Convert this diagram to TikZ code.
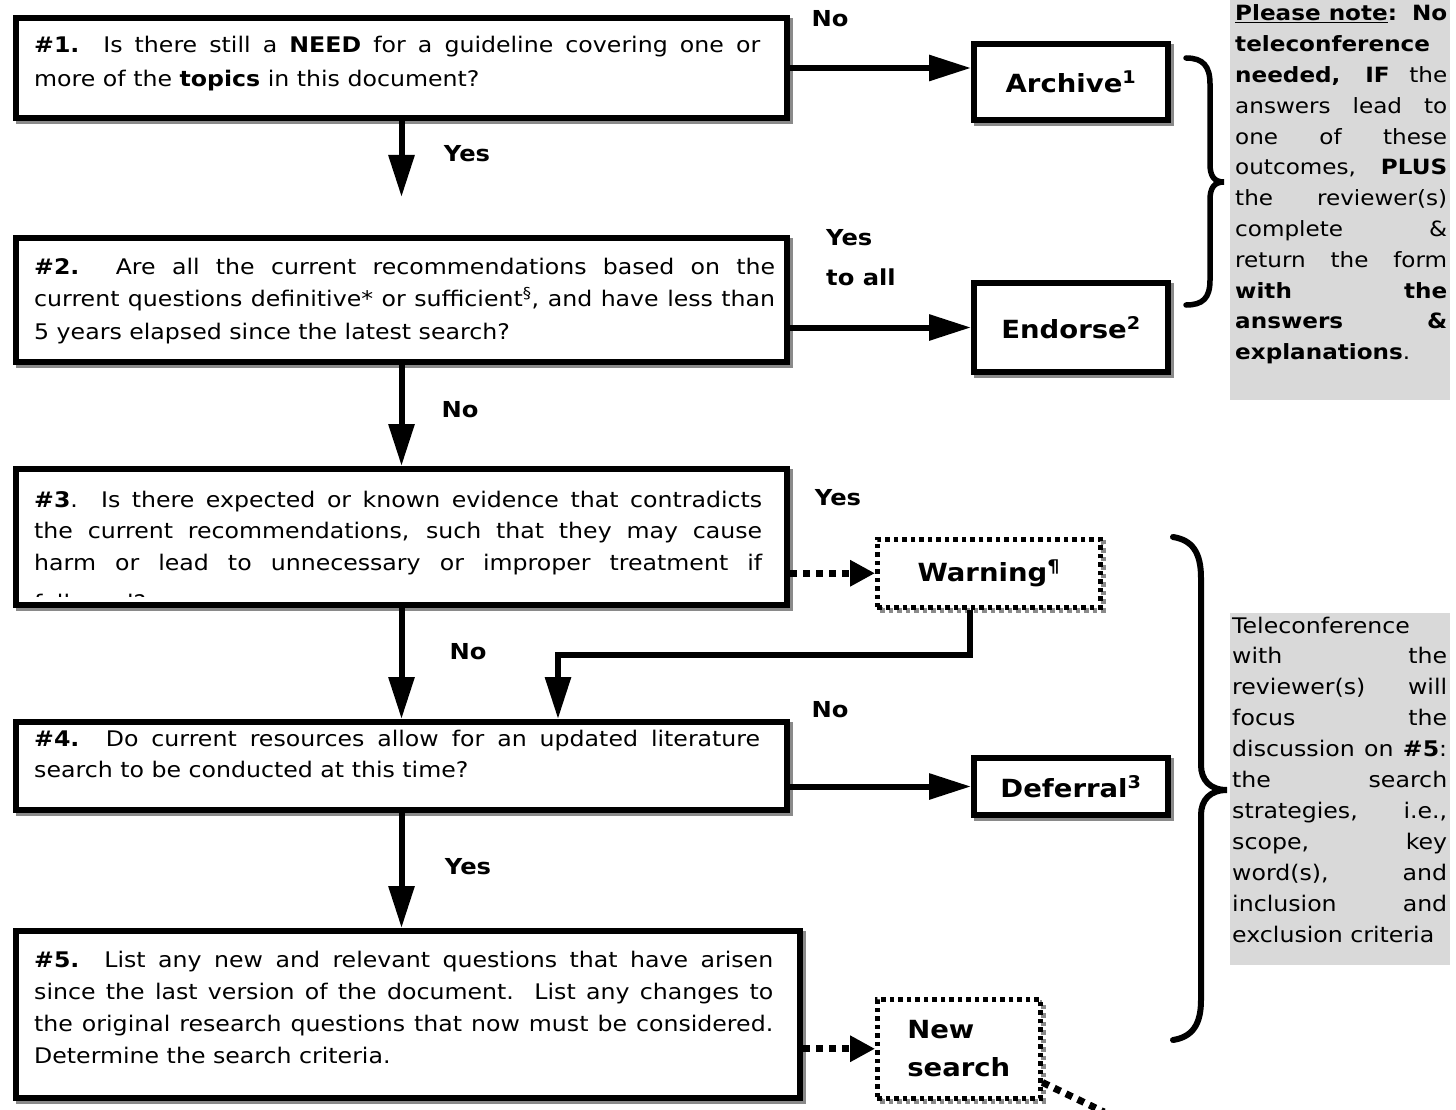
\documentclass[tikz,border=0pt]{standalone}
\usepackage{fontspec}
\setmainfont{DejaVu Sans}[FakeStretch=1.1]
\usetikzlibrary{arrows.meta}
\definecolor{panelgray}{HTML}{D9D9D9}
\definecolor{shadowgray}{HTML}{8A8A8A}
\tikzset{
  qbox/.style={rectangle, draw=black, line width=6pt, fill=white, inner sep=0pt, anchor=north west,
    preaction={draw=shadowgray, fill=none, line width=6pt, transform canvas={xshift=3pt, yshift=-3pt}}},
  obox/.style={qbox, font=\fontsize{25}{30}\selectfont\bfseries},
  dbox/.style={rectangle, draw=black, line width=4.5pt, dash pattern=on 4.5pt off 4pt, fill=white, inner sep=0pt, anchor=north west,
    font=\fontsize{25}{38}\selectfont\bfseries,
    preaction={draw=shadowgray, fill=none, line width=4.5pt, dash pattern=on 4.5pt off 4pt, transform canvas={xshift=3pt, yshift=-3pt}}},
  qtext/.style={anchor=base west, inner sep=0pt, align=justify},
  ptext/.style={anchor=base west, inner sep=0pt, align=justify},
  lbl/.style={inner sep=0pt, font=\fontsize{22}{40}\selectfont\bfseries},
  arr/.style={line width=6pt, -{Triangle[length=42pt,width=25pt]}},
  darr/.style={line width=7pt, dash pattern=on 7pt off 6pt, -{Triangle[length=25pt,width=25pt]}},
  dline/.style={line width=7pt, dash pattern=on 7pt off 6pt},
  bracepath/.style={line width=5.5pt, line cap=round},
  panel/.style={rectangle, fill=panelgray, inner sep=0pt, anchor=north west},
}
\begin{document}
\begin{tikzpicture}[x=1pt, y=-1pt, line join=miter]
\useasboundingbox (0,0) rectangle (1456,1110);
\fill[white] (0,0) rectangle (1456,1110);

% grey note panels
\node[panel, minimum width=220pt, minimum height=400pt] (p1) at (1230,0) {};
\node[panel, minimum width=220pt, minimum height=352pt] (p2) at (1230,613) {};

% question boxes
\node[qbox, minimum width=771pt, minimum height=100pt] (b1) at (13,15) {};
\node[qbox, minimum width=771pt, minimum height=124pt] (b2) at (13,235) {};
\node[qbox, minimum width=771pt, minimum height=136pt] (b3) at (13,466) {};
\node[qbox, minimum width=771pt, minimum height=88pt] (b4) at (13,719) {};
\node[qbox, minimum width=784pt, minimum height=167pt] (b5) at (13,928) {};

% outcome boxes
\node[obox, minimum width=194pt, minimum height=76pt] (arc) at (971,41) {Archive\textsuperscript{1}};
\node[obox, minimum width=194pt, minimum height=89pt] (end) at (971,280) {Endorse\textsuperscript{2}};
\node[obox, minimum width=194pt, minimum height=57pt] (def) at (971,755) {Deferral\textsuperscript{3}};
\node[dbox, minimum width=223pt, minimum height=68pt] (warn) at (875,537) {Warning\textsuperscript{¶}};
\node[dbox, minimum width=163pt, minimum height=99pt, align=left] (ns) at (875,997) {New\\search};

% question texts
\node[qtext, text width=726pt, font=\fontsize{21.5}{34}\selectfont] (t1) at (34,53)
 {\textbf{\#1.} Is there still a \textbf{NEED} for a guideline covering one or\linebreak
  more of the \textbf{topics} in this document?};
\node[qtext, text width=741pt, font=\fontsize{21.5}{32.5}\selectfont] (t2) at (34,274)
 {\textbf{\#2.} Are all the current recommendations based on the\linebreak
  current questions definitive* or sufficient\textsuperscript{§}, and have less than\linebreak
  5 years elapsed since the latest search?};
\begin{scope}
\clip (13,466) rectangle (784,596);
\node[qtext, text width=728pt, font=\fontsize{21.5}{31.5}\selectfont] (t3) at (34,507)
 {\textbf{\#3}.\ \ Is there expected or known evidence that contradicts\linebreak
  the current recommendations, such that they may cause\linebreak
  harm or lead to unnecessary or improper treatment if\linebreak
  \raisebox{-9pt}{followed?}};
\end{scope}
\node[qtext, text width=726pt, font=\fontsize{21.5}{31}\selectfont] (t4) at (34,746)
 {\textbf{\#4.} Do current resources allow for an updated literature\linebreak
  search to be conducted at this time?};
\node[qtext, text width=739pt, font=\fontsize{21.5}{32}\selectfont] (t5) at (34,967)
 {\textbf{\#5.}\ \ List any new and relevant questions that have arisen\linebreak
  since the last version of the document.\ \ List any changes to\linebreak
  the original research questions that now must be considered.\linebreak
  Determine the search criteria.};

% panel texts
\node[ptext, text width=212pt, font=\fontsize{21}{30.8}\selectfont] (pt1) at (1235,21)
 {\underline{\textbf{Please note}}\textbf{: No}\linebreak
  \textbf{teleconference}\linebreak
  \textbf{needed, IF} the\linebreak
  answers lead to\linebreak
  one of these\linebreak
  outcomes, \textbf{PLUS}\linebreak
  the reviewer(s)\linebreak
  complete \&\linebreak
  return the form\linebreak
  \textbf{with the}\linebreak
  \textbf{answers \&}\linebreak
  \textbf{explanations}.};
\node[ptext, text width=215pt, font=\fontsize{21.5}{30.9}\selectfont] (pt2) at (1232,633)
 {Teleconference\linebreak
  with the\linebreak
  reviewer(s) will\linebreak
  focus the\linebreak
  discussion on \textbf{\#5}:\linebreak
  the search\linebreak
  strategies, i.e.,\linebreak
  scope, key\linebreak
  word(s), and\linebreak
  inclusion and\linebreak
  exclusion criteria};

% connector labels
\node[lbl] (lno1) at (830,19) {No};
\node[lbl] (lyes1) at (467,154) {Yes};
\node[lbl, align=left, anchor=north west] (lyes2) at (826,229) {Yes\\to all};
\node[lbl] (lno2) at (460,410) {No};
\node[lbl] (lyes3) at (838,498) {Yes};
\node[lbl] (lno3) at (468,652) {No};
\node[lbl] (lno4) at (830,710) {No};
\node[lbl] (lyes4) at (468,867) {Yes};

% connectors
\coordinate (y1end) at (400,197);
\draw[arr] (b1.east) -- (b1.east -| arc.west);
\draw[arr] (b1.south) -- (b1.south |- y1end);
\draw[arr] (b2.east |- end.west) -- (end.west);
\draw[arr] (b2.south) -- (b3.north);
\draw[darr] (b3.east |- warn.west) -- (warn.west);
\draw[arr] (b3.south) -- (b4.north);
\coordinate (wturn) at (970,655);
\coordinate (wleft) at (558,655);
\draw[arr] (wturn |- warn.south) -- (wturn) -- (wleft) -- (wleft |- b4.north);
\draw[arr] (b4.east |- def.west) -- (def.west);
\draw[arr] (b4.south) -- (b4.south |- b5.north);
\draw[darr] (b5.east |- ns.west) -- (ns.west);
\coordinate (nsout) at (1104,1112);
\draw[dline] ([yshift=18pt]ns.south east) -- (nsout);

% braces
\draw[bracepath] (1186,58) .. controls (1203,58) and (1210,66) .. (1210,84)
  -- (1210,164) .. controls (1210,176) and (1214,182) .. (1224,182)
  .. controls (1214,182) and (1210,188) .. (1210,200)
  -- (1210,280) .. controls (1210,298) and (1203,305) .. (1186,305);
\draw[bracepath, line width=6pt] (1173,537) .. controls (1192,540) and (1201,552) .. (1201,578)
  -- (1201,765) .. controls (1201,780) and (1210,790) .. (1227,790)
  .. controls (1210,790) and (1201,800) .. (1201,815)
  -- (1201,1000) .. controls (1201,1025) and (1192,1037) .. (1173,1040);
\end{tikzpicture}
\end{document}
